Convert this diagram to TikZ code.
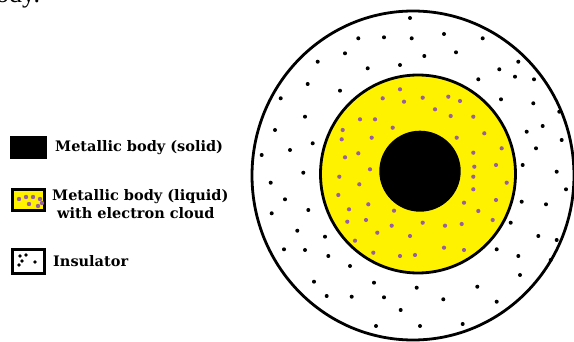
\documentclass[tikz,border=0pt]{standalone}
\usepackage{fontspec}
\setmainfont{Liberation Serif}
\newfontfamily\legfont{DejaVu Serif}
\definecolor{cyel}{RGB}{255,242,0}
\definecolor{cpur}{RGB}{150,95,160}
\begin{document}
\begin{tikzpicture}[x=1pt,y=-1pt,
  legtext/.style={font=\legfont\bfseries\fontsize{14.5}{16}\selectfont, anchor=base west, inner sep=0pt},
  ring/.style={draw=black, line width=2.8pt},
  bdot/.style={fill=black},
  pdot/.style={fill=cpur}]
\useasboundingbox (0,0) rectangle (574,342);
\begin{scope}
\clip (0,0) rectangle (574,342);
\fill[white] (0,0) rectangle (574,342);
% page fragment
\node[font=\fontsize{26}{28}\selectfont, anchor=base west, inner sep=0pt] (frag) at (-4,3) {ody.};
% circles
\draw[ring, fill=white] (413,175.5) ellipse [x radius=161pt, y radius=164.5pt];
\draw[ring, fill=cyel] (418,174) ellipse [x radius=97.5pt, y radius=99pt];
\fill[black] (420,171.2) ellipse [x radius=40.7pt, y radius=40.5pt];
% insulator dots
\foreach \x/\y in {358.3/38.3,384/37.3,411.7/38.3,444/34,482.7/38.3,345/53.3,424.3/56,456/52.3,
  317.7/61.7,367.7/68.3,400/65,518.3/61.7,499.3/69.3,478.3/79.3,515/76.7,534/79.3,307.7/84,
  340/90.7,501/99.3,533.3/103.3,280.7/98.3,305/116.7,559.3/111.7,542.7/126,526.7/131.7,
  275/130,312.7/143.3,290/150,561.7/140,536/148.3,261.7/155,303.3/172.7,522.7/165,556.7/171.7,
  270.7/182.7,566/189.3,285/199.3,308.3/210,521.7/201.7,546/204.3,271.7/213.3,297.3/230.7,
  325/236.7,510.7/222.7,538.3/236,556.7/240,284/249.3,305/250,328.3/256,496.7/249.3,518.3/256,
  550.7/260,350/266,520/275,314/281.7,374/282.7,416.7/287.7,477.3/286.7,326.7/296,351.7/296.7,
  384/297.3,443.3/299.3,496.7/301.7,400.7/310,376/326,420/326,462.7/324,410/18}
  \fill[bdot] (\x,\y) circle[radius=2pt];
% electron cloud dots
\foreach \x/\y in {400/89.3,382.7/98.3,404/101.7,422.7/97.7,448.3/96.7,460/101,435/109.3,
  450.7/116,473.3/116.7,360/119.3,375/119.3,392.7/127.7,342.7/130,371.7/137.7,456.7/137.7,
  484.3/133.3,341.7/139.3,358.3/153.3,345/157.3,473.3/152.7,501.7/148.3,496/165,370/169.3,
  474.3/166.7,339.3/176.7,359.3/184.3,506.7/182.7,473.3/176.7,338.3/195,368.3/204.3,473.3/189.3,
  349/209.3,394/210.7,464/202.7,496/200,478.3/211,347.3/221.7,366/220,377.3/232.7,391.7/225.7,
  422.7/222.7,445/225.7,461.7/224,492.7/220,355/240.7,410/236,373.3/252.7,400/256,415/255,
  444/247.7,464/250}
  \fill[pdot] (\x,\y) circle[radius=2.1pt];
\end{scope}
% legend
\fill[black] (10,136) rectangle (47,159);
\node[legtext] (l1) at (55,152) {Metallic body (solid)};
\draw[line width=3pt, fill=cyel] (12.5,189.5) rectangle (44.5,210.5);
\foreach \x/\y in {19/199,26/197,33/197,40/199,29/204,38/206,42/203}
  \fill[pdot] (\x,\y) circle[radius=2.2pt];
\node[legtext] (l2) at (52,201) {Metallic body (liquid)};
\node[legtext] (l3) at (57,219) {with electron cloud};
\draw[line width=3.5pt, fill=white] (12.5,249.5) rectangle (44.5,273.5);
\foreach \x/\y in {20/256,26/255,22/261,35/262,19/265}
  \fill[bdot] (\x,\y) circle[radius=1.8pt];
\node[legtext] (l4) at (53,267) {Insulator};
\end{tikzpicture}
\end{document}
